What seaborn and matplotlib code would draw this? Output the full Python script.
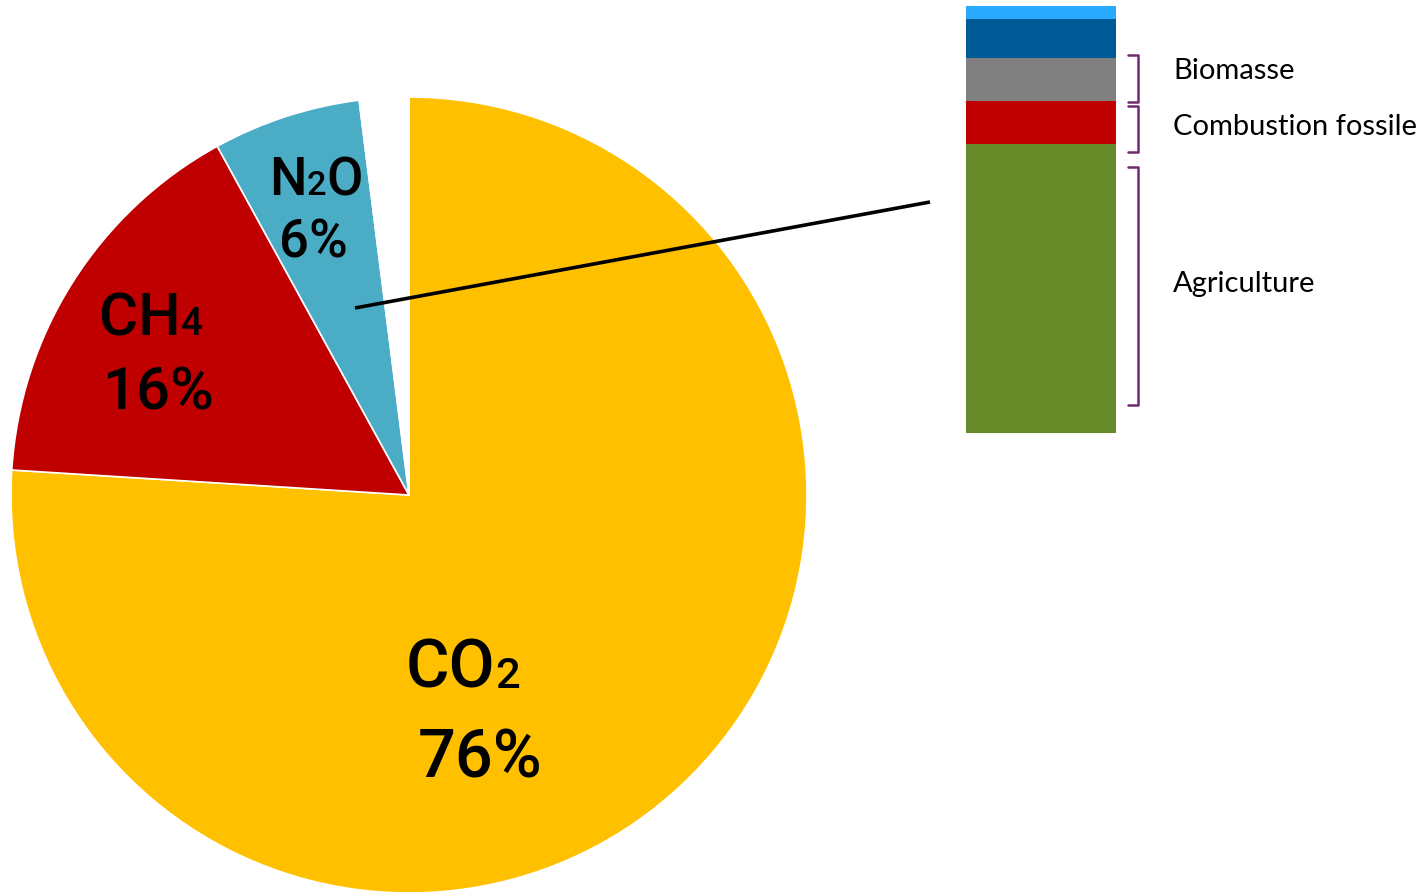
import numpy as np
import matplotlib
matplotlib.use("Agg")
import matplotlib.pyplot as plt
import seaborn as sns

# Pie: share of emissions by gas (the last slice is the empty gap left white)
GAS_NAMES = ["CO2", "CH4", "N2O", "Autre"]
GAS_SHARES = [76, 16, 6, 2]
GAS_COLORS = ["#FFC000", "#C00000", "#4BACC6", "#FFFFFF"]

# Stacked bar: N2O broken down by source, from the bottom up
SOURCE_NAMES = ["Agriculture", "Combustion fossile", "Biomasse", "Industrie", "Autres"]
SOURCE_SHARES = [67, 10, 10, 9, 3]
SOURCE_COLORS = ["#678A29", "#C00000", "#808080", "#005A96", "#29A9FF"]

W, H, DPI = 1418, 894, 100
BRACKET_COLOR = "#6E2C6E"

sns.set_style("white")
plt.rcParams["font.family"] = ["Roboto", "DejaVu Sans"]
plt.rcParams["text.color"] = "black"

fig = plt.figure(figsize=(W / DPI, H / DPI), dpi=DPI)

# pie, centre (409, 495) px, radius 398 px
r = 398
cx, cy = 409, 495
ax_pie = fig.add_axes([(cx - r) / W, (H - cy - r) / H, 2 * r / W, 2 * r / H])
ax_pie.pie(
    GAS_SHARES,
    colors=GAS_COLORS,
    startangle=90,
    counterclock=False,
    radius=1,
    wedgeprops=dict(edgecolor="white", linewidth=1.2),
)
ax_pie.set_xlim(-1, 1)
ax_pie.set_ylim(-1, 1)
ax_pie.set_aspect("equal")
ax_pie.axis("off")

# stacked bar, drawn as overlapping cumulative bars
ax_bar = fig.add_axes([966 / W, (H - 433) / H, 150 / W, 427 / H])
cum = np.cumsum(SOURCE_SHARES)
for i in reversed(range(len(SOURCE_SHARES))):
    sns.barplot(x=["N2O"], y=[cum[i]], color=SOURCE_COLORS[i], width=1,
                saturation=1, ax=ax_bar, linewidth=0)
ax_bar.set_xlim(-0.5, 0.5)
ax_bar.set_ylim(0, cum[-1])
ax_bar.axis("off")

# overlay in pixel coordinates for labels, brackets and the connector
ann = fig.add_axes([0, 0, 1, 1], zorder=5)
ann.set_xlim(0, W)
ann.set_ylim(H, 0)
ann.axis("off")
ann.patch.set_alpha(0)

renderer = fig.canvas.get_renderer()


def chem_label(ax, xc, y, parts, size):
    # parts: (text, scale); small digits sit on the baseline
    texts = [ax.text(0, y, s, fontsize=size * k, va="baseline", ha="left",
                     color="black", fontweight="medium")
             for s, k in parts]
    widths = [t.get_window_extent(renderer).width for t in texts]
    x = xc - sum(widths) / 2
    for t, w in zip(texts, widths):
        t.set_x(x)
        x += w


def pct_label(ax, xc, y, value, size):
    ax.text(xc, y, f"{value}%", fontsize=size, ha="center", va="baseline",
            color="black", fontweight="medium")


chem_label(ann, 463, 688, [("CO", 1), ("2", 0.65)], 48)
pct_label(ann, 480, 778, GAS_SHARES[0], 48)
chem_label(ann, 151, 335, [("CH", 1), ("4", 0.65)], 43)
pct_label(ann, 158, 410, GAS_SHARES[1], 43)
chem_label(ann, 316, 195, [("N", 1), ("2", 0.65), ("O", 1)], 38)
pct_label(ann, 313, 257, GAS_SHARES[2], 38)

ann.plot([355, 930], [308, 202], color="black", lw=2.6, solid_capstyle="butt")


def bracket(ax, y0, y1, x_tip=1128, x_spine=1138):
    ax.plot([x_tip, x_spine, x_spine, x_tip], [y0, y0, y1, y1],
            color=BRACKET_COLOR, lw=1.8, solid_joinstyle="round")


bracket(ann, 55, 102)
bracket(ann, 106, 152)
bracket(ann, 167, 405)

label_font = ["Lato", "DejaVu Sans"]
ann.text(1173, 79, SOURCE_NAMES[2], fontsize=21, family=label_font, va="baseline", color="black")
ann.text(1173, 135, SOURCE_NAMES[1], fontsize=21, family=label_font, va="baseline", color="black")
ann.text(1173, 292, SOURCE_NAMES[0], fontsize=21, family=label_font, va="baseline", color="black")

fig.savefig("out.png", dpi=DPI)
